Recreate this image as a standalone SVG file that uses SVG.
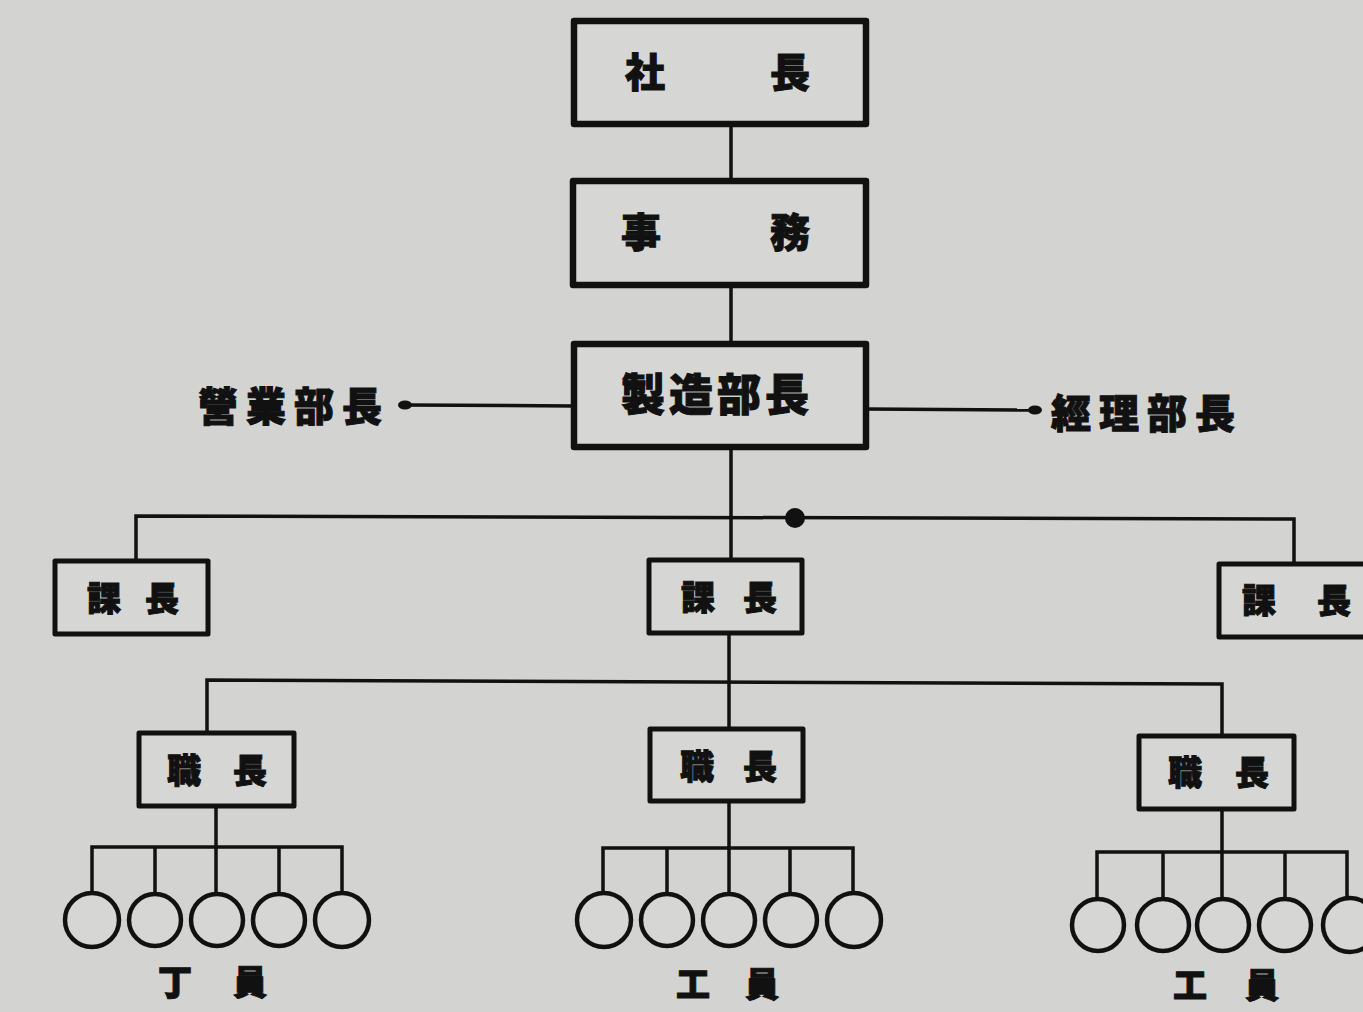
<svg xmlns="http://www.w3.org/2000/svg" width="1363" height="1012" viewBox="0 0 1363 1012">
<defs>
<style>
.bg{fill:#d3d3d1}
.box{fill:#d6d6d4;stroke:#111;stroke-linejoin:round}
.big{stroke-width:6.5}
.sm{stroke-width:5}
.ln{fill:none;stroke:#111;stroke-width:3.5;stroke-linejoin:miter}
.cir{fill:#d6d6d4;stroke:#111;stroke-width:4.5}
.t{font-family:"Noto Sans CJK JP","Noto Sans CJK TC",sans-serif;font-weight:900;fill:#111;stroke:#111;stroke-width:1;text-anchor:middle}
.t40{font-size:40px}
.t44{font-size:44px}
.t34{font-size:34px}
</style>
<marker id="dot" markerWidth="14" markerHeight="10" refX="7" refY="5" markerUnits="userSpaceOnUse" orient="auto">
<ellipse cx="7" cy="5" rx="7" ry="4.5" fill="#111"/>
</marker>
</defs>
<rect class="bg" x="0" y="0" width="1363" height="1012"/>

<g id="connectors">
<line class="ln" x1="731" y1="124" x2="731" y2="180"/>
<line class="ln" x1="731" y1="285" x2="731" y2="343"/>
<line class="ln" x1="574" y1="406" x2="405" y2="405" marker-end="url(#dot)"/>
<line class="ln" x1="866" y1="409" x2="1035" y2="410" marker-end="url(#dot)"/>
<line class="ln" x1="731" y1="447" x2="731" y2="560"/>
<polyline class="ln" points="136,560 136,516 1294,519 1294,565"/>
<circle cx="795" cy="518" r="10" fill="#111"/>
<line class="ln" x1="729" y1="633" x2="729" y2="729"/>
<polyline class="ln" points="207,733 207,680 1222,684 1222,737"/>
<line class="ln" x1="216" y1="806" x2="216" y2="893"/>
<polyline class="ln" points="92,893 92,847 342,847 342,893"/>
<line class="ln" x1="155" y1="847" x2="155" y2="893"/>
<line class="ln" x1="279" y1="847" x2="279" y2="893"/>
<line class="ln" x1="729" y1="801" x2="729" y2="893"/>
<polyline class="ln" points="603,893 603,848 853,848 853,893"/>
<line class="ln" x1="667" y1="848" x2="667" y2="893"/>
<line class="ln" x1="790" y1="848" x2="790" y2="893"/>
<line class="ln" x1="1222" y1="810" x2="1222" y2="898"/>
<polyline class="ln" points="1097,898 1097,852 1347,852 1347,898"/>
<line class="ln" x1="1163" y1="852" x2="1163" y2="898"/>
<line class="ln" x1="1285" y1="852" x2="1285" y2="898"/>
</g>

<g id="shacho"><rect class="box big" x="574" y="21" width="292" height="103"/><text class="t t40" x="645" y="87">社</text><text class="t t40" x="790" y="87">長</text></g>
<g id="jimu"><rect class="box big" x="573" y="181" width="293" height="104"/><text class="t t40" x="641" y="247">事</text><text class="t t40" x="790" y="247">務</text></g>
<g id="seizo"><rect class="box big" x="574" y="344" width="292" height="103"/><text class="t t44" x="717" y="411" letter-spacing="4">製造部長</text></g>
<g id="eigyo"><text class="t t40" x="294" y="421" letter-spacing="8">營業部長</text></g>
<g id="keiri"><text class="t t40" x="1147" y="428" letter-spacing="8">經理部長</text></g>

<g id="kacho-left"><rect class="box sm" x="55" y="561" width="153" height="73"/><text class="t t34" x="104" y="611">課</text><text class="t t34" x="162" y="611">長</text></g>
<g id="kacho-center"><rect class="box sm" x="649" y="560" width="153" height="73"/><text class="t t34" x="698" y="610">課</text><text class="t t34" x="760" y="610">長</text></g>
<g id="kacho-right"><rect class="box sm" x="1219" y="564" width="150" height="73"/><text class="t t34" x="1259" y="613">課</text><text class="t t34" x="1334" y="613">長</text></g>

<g id="shokucho-left"><rect class="box sm" x="139" y="733" width="155" height="73"/><text class="t t34" x="184" y="783">職</text><text class="t t34" x="250" y="783">長</text></g>
<g id="shokucho-center"><rect class="box sm" x="650" y="729" width="153" height="72"/><text class="t t34" x="697" y="779">職</text><text class="t t34" x="760" y="779">長</text></g>
<g id="shokucho-right"><rect class="box sm" x="1139" y="736" width="155" height="73"/><text class="t t34" x="1185" y="785">職</text><text class="t t34" x="1252" y="785">長</text></g>

<g id="workers-left">
<circle class="cir" cx="92" cy="920" r="27"/><circle class="cir" cx="155" cy="920" r="26"/><circle class="cir" cx="217" cy="920" r="26"/><circle class="cir" cx="279" cy="920" r="26"/><circle class="cir" cx="342" cy="920" r="27"/>
<text class="t t34" x="175" y="995">丁</text><text class="t t34" x="250" y="995">員</text>
</g>
<g id="workers-center">
<circle class="cir" cx="604" cy="920" r="27"/><circle class="cir" cx="667" cy="920" r="26"/><circle class="cir" cx="729" cy="920" r="26"/><circle class="cir" cx="791" cy="920" r="26"/><circle class="cir" cx="854" cy="920" r="27"/>
<text class="t t34" x="693" y="997">工</text><text class="t t34" x="762" y="997">員</text>
</g>
<g id="workers-right">
<circle class="cir" cx="1098" cy="925" r="26"/><circle class="cir" cx="1163" cy="925" r="26"/><circle class="cir" cx="1223" cy="925" r="26"/><circle class="cir" cx="1285" cy="925" r="26"/><circle class="cir" cx="1350" cy="925" r="27"/>
<text class="t t34" x="1190" y="998">工</text><text class="t t34" x="1262" y="998">員</text>
</g>
</svg>
